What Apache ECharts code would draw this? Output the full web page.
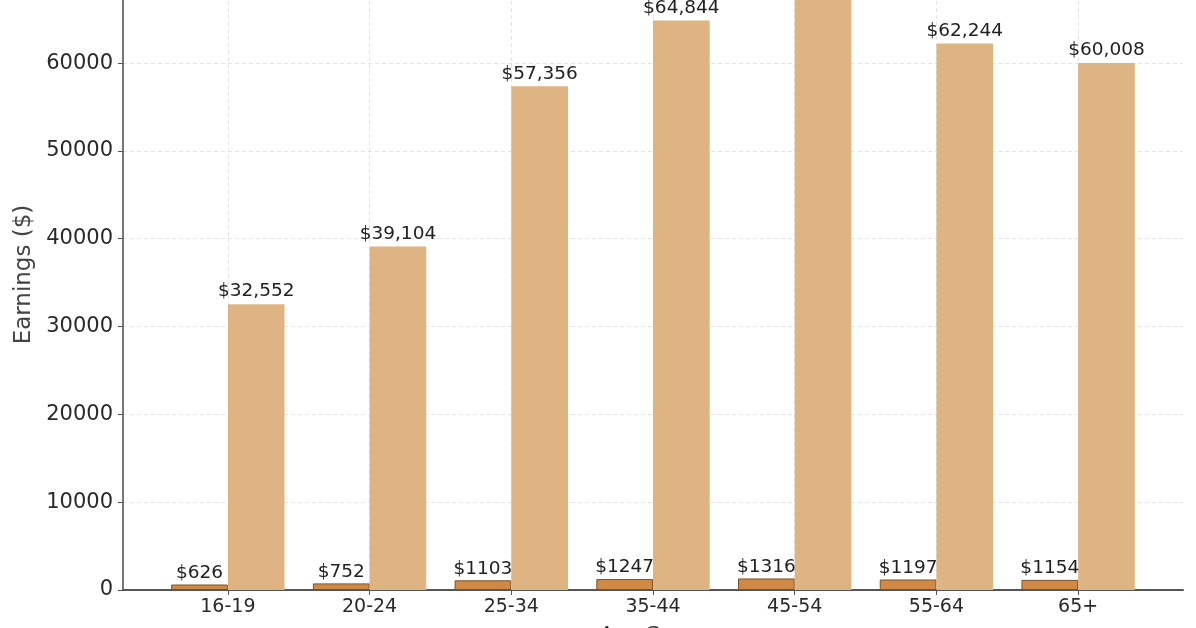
<!DOCTYPE html>
<html>
<head>
<meta charset="utf-8">
<script src="https://cdn.jsdelivr.net/npm/echarts@6/dist/echarts.min.js"></script>
<style>
  html, body { margin: 0; padding: 0; background: #fff; }
  #frame { position: relative; width: 1196px; height: 628px; overflow: hidden; }
  #container { position: absolute; left: 0; top: -60px; width: 1196px; height: 720px; }
</style>
</head>
<body>
<div id="frame"><div id="container"></div></div>
<script>
// age groups and earnings
var ageGroups = ['16-19', '20-24', '25-34', '35-44', '45-54', '55-64', '65+'];
var weekly = [626, 752, 1103, 1247, 1316, 1197, 1154];
var annual = [32552, 39104, 57356, 64844, 68432, 62244, 60008];
var yTicks = [0, 10000, 20000, 30000, 40000, 50000, 60000, 70000];

var withComma = function (v) {
    return String(v).replace(/\B(?=(\d{3})+(?!\d))/g, ',');
};

var positions = ageGroups.map(function (g, i) { return i; });

var dom = document.getElementById("container");
var myChart = echarts.init(dom);

var option = {
    animation: false,
    textStyle: { fontFamily: 'DejaVu Sans' },
    grid: { left: 123, right: 13, top: 19, bottom: 70, containLabel: false, outerBoundsMode: 'none' },
    xAxis: {
        type: 'value',
        min: -0.74,
        max: 6.74,
        name: 'Age Group',
        nameLocation: 'middle',
        nameGap: 35,
        nameTextStyle: { fontSize: 20, color: '#333' },
        axisLine: { show: true, onZero: false, lineStyle: { color: '#555', width: 2 } },
        axisTick: { show: true, length: 5, customValues: positions, lineStyle: { color: '#555' } },
        axisLabel: {
            customValues: positions,
            fontSize: 19,
            color: '#2a2a2a',
            margin: 8,
            formatter: function (v) { return ageGroups[Math.round(v)]; }
        },
        splitLine: { show: true, lineStyle: { color: '#e4e4e4', type: [4, 3] } }
    },
    yAxis: {
        type: 'value',
        min: 0,
        max: 71854,
        interval: 10000,
        name: 'Earnings ($)',
        nameLocation: 'middle',
        nameGap: 86,
        nameRotate: 90,
        nameTextStyle: { fontSize: 23, color: '#444' },
        axisLine: { show: true, onZero: false, lineStyle: { color: '#777', width: 2 } },
        axisTick: { show: true, length: 5, lineStyle: { color: '#555' } },
        axisLabel: {
            fontSize: 21,
            color: '#2a2a2a',
            margin: 10,
            formatter: function (v) { return yTicks.indexOf(v) >= 0 ? String(v) : ''; }
        },
        splitLine: { show: true, lineStyle: { color: '#e4e4e4', type: [4, 3] } }
    },
    series: [
        {
            name: 'Weekly Earnings',
            type: 'bar',
            barWidth: '40%',
            barGap: '0%',
            data: positions.map(function (i) { return [i, weekly[i]]; }),
            itemStyle: { color: '#d08a45', borderColor: '#7a5428', borderWidth: 1 },
            label: {
                show: true,
                position: 'top',
                distance: 2,
                fontSize: 18.5,
                color: '#222',
                formatter: function (p) { return '$' + p.value[1]; }
            }
        },
        {
            name: 'Annual Earnings',
            type: 'bar',
            barWidth: '40%',
            barGap: '0%',
            data: positions.map(function (i) { return [i, annual[i]]; }),
            itemStyle: { color: '#deb482' },
            label: {
                show: true,
                position: 'top',
                distance: 3,
                fontSize: 18.5,
                color: '#222',
                formatter: function (p) { return '$' + withComma(p.value[1]); }
            }
        }
    ]
};

if (option && typeof option === 'object') {
    myChart.setOption(option);
}
</script>
</body>
</html>
